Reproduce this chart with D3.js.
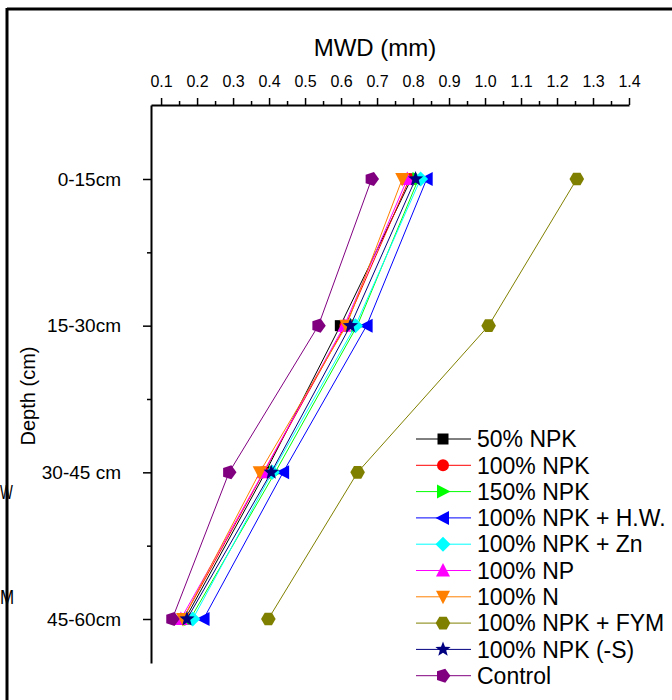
<!DOCTYPE html>
<html>
<head>
<meta charset="utf-8">
<script src="https://cdn.jsdelivr.net/npm/d3@7"></script>
<style>
  html, body { margin: 0; padding: 0; background: #fff; }
  svg { display: block; }
  text { font-family: "Liberation Sans", Arial, sans-serif; fill: #000; }
</style>
</head>
<body>
<svg id="chart" width="672" height="700"></svg>
<script>
// Depth layers (y categories)
const depths = ["0-15cm", "15-30cm", "30-45 cm", "45-60cm"];

// Top-axis tick labels
const xTicks = [0.1, 0.2, 0.3, 0.4, 0.5, 0.6, 0.7, 0.8, 0.9, 1.0, 1.1, 1.2, 1.3, 1.4];

// Treatment names, in legend order
const treatments = ["50% NPK", "100% NPK", "150% NPK", "100% NPK + H.W.", "100% NPK + Zn",
                    "100% NP", "100% N", "100% NPK + FYM", "100% NPK (-S)", "Control"];

// Mean weight diameter (mm) for each treatment, by depth
const npk50   = [0.795, 0.598, 0.390, 0.167];
const npk100  = [0.790, 0.612, 0.385, 0.161];
const npk150  = [0.815, 0.645, 0.417, 0.181];
const npkHW   = [0.838, 0.671, 0.439, 0.218];
const npkZn   = [0.821, 0.640, 0.409, 0.188];
const np100   = [0.784, 0.609, 0.384, 0.155];
const n100    = [0.770, 0.615, 0.374, 0.161];
const npkFYM  = [1.255, 1.010, 0.646, 0.398];
const npkNoS  = [0.807, 0.626, 0.406, 0.172];
const control = [0.685, 0.537, 0.289, 0.131];

const seriesValues = [npk50, npk100, npk150, npkHW, npkZn, np100, n100, npkFYM, npkNoS, control];
const colors  = ["#000000", "#ff0000", "#00ff00", "#0000ff", "#00ffff",
                 "#ff00ff", "#ff8000", "#808000", "#000080", "#800080"];
const shapes  = ["square", "circle", "triRight", "triLeft", "diamond",
                 "triUp", "triDown", "hexagon", "star", "pentagon"];

const svg = d3.select("#chart");

// Remnant frame and letters of the neighbouring panel
svg.append("line").attr("x1", 7).attr("x2", 672).attr("y1", 9).attr("y2", 9)
  .attr("stroke", "#000").attr("stroke-width", 3);
svg.append("text").attr("transform", "translate(0,499) scale(0.68,1)")
  .style("font-size", "20px").text("W");
svg.append("text").attr("transform", "translate(0,604) scale(0.85,1)")
  .style("font-size", "20px").text("M");
svg.append("line").attr("x1", 7).attr("x2", 7).attr("y1", 8).attr("y2", 700)
  .attr("stroke", "#000").attr("stroke-width", 3);

// Scales
const x = d3.scaleLinear().domain([0.072, 1.4]).range([151, 629]);
const y = d3.scaleLinear().domain([-0.5045, 3.3]).range([105, 663]);

// Top x axis
const xAxis = svg.append("g").attr("transform", "translate(0,105)")
  .call(d3.axisTop(x).tickValues(xTicks).tickFormat(d3.format(".1f"))
        .tickSize(7).tickSizeOuter(0).tickPadding(11));
xAxis.select(".domain").attr("stroke-width", 2);
xAxis.selectAll(".tick line").attr("stroke-width", 1.5);
xAxis.selectAll(".tick text").style("font-size", "16px").style("font-family", "Liberation Sans, Arial, sans-serif");
const xMinor = d3.range(0.15, 1.4, 0.1);
svg.append("g").attr("transform", "translate(0,105)")
  .call(d3.axisTop(x).tickValues(xMinor).tickFormat("").tickSize(4).tickSizeOuter(0))
  .call(g => g.select(".domain").remove())
  .selectAll(".tick line").attr("stroke-width", 1.5);

// Left y axis
const yAxis = svg.append("g").attr("transform", "translate(151,0)")
  .call(d3.axisLeft(y).tickValues([0, 1, 2, 3]).tickFormat(i => depths[i])
        .tickSize(8).tickSizeOuter(0).tickPadding(22));
yAxis.select(".domain").attr("stroke-width", 2);
yAxis.selectAll(".tick line").attr("stroke-width", 1.5);
yAxis.selectAll(".tick text").style("font-size", "19px").style("font-family", "Liberation Sans, Arial, sans-serif");
svg.append("g").attr("transform", "translate(151,0)")
  .call(d3.axisLeft(y).tickValues([0.5, 1.5, 2.5]).tickFormat("").tickSize(4).tickSizeOuter(0))
  .call(g => g.select(".domain").remove())
  .selectAll(".tick line").attr("stroke-width", 1.5);

// Axis titles
svg.append("text").attr("x", 375).attr("y", 56).attr("text-anchor", "middle")
  .style("font-size", "24px").text("MWD (mm)");
svg.append("text").attr("transform", "translate(35,396) rotate(-90)")
  .attr("text-anchor", "middle").style("font-size", "20px").text("Depth (cm)");

// Marker shape paths centred on the origin
function shapePath(kind) {
  const poly = pts => "M" + pts.map(p => p.map(v => v.toFixed(2)).join(",")).join("L") + "Z";
  const regular = (n, r, a0) => d3.range(n).map(i => {
    const a = a0 + i * 2 * Math.PI / n;
    return [r * Math.cos(a), r * Math.sin(a)];
  });
  switch (kind) {
    case "square":   return poly([[-5.5, -5.5], [5.5, -5.5], [5.5, 5.5], [-5.5, 5.5]]);
    case "circle":   return d3.symbol(d3.symbolCircle, Math.PI * 36)();
    case "triRight": return poly([[7.5, 0], [-6, -7], [-6, 7]]);
    case "triLeft":  return poly([[-7.5, 0], [6, -7], [6, 7]]);
    case "triUp":    return poly([[0, -7.5], [7, 6], [-7, 6]]);
    case "triDown":  return poly([[0, 7.5], [7, -6], [-7, -6]]);
    case "diamond":  return poly([[0, -7.5], [7.5, 0], [0, 7.5], [-7.5, 0]]);
    case "hexagon":  return poly(regular(6, 7.3, 0));
    case "pentagon": return poly(regular(5, 7.4, 0));
    case "star": {
      const pts = d3.range(10).map(i => {
        const r = i % 2 === 0 ? 8 : 3.4;
        const a = -Math.PI / 2 + i * Math.PI / 5;
        return [r * Math.cos(a), r * Math.sin(a)];
      });
      return poly(pts);
    }
  }
}

// Series: connecting lines then markers, in legend order
const line = d3.line().x(d => x(d.v)).y(d => y(d.i));
seriesValues.forEach((vals, s) => {
  const pts = vals.map((v, i) => ({ v, i }));
  const g = svg.append("g");
  g.append("path").datum(pts).attr("d", line)
    .attr("fill", "none").attr("stroke", colors[s]).attr("stroke-width", 1);
  g.selectAll("path.mk").data(pts).enter().append("path").attr("class", "mk")
    .attr("transform", d => `translate(${x(d.v)},${y(d.i)})`)
    .attr("d", shapePath(shapes[s]))
    .attr("fill", colors[s]);
});

// Legend
const legend = svg.append("g");
treatments.forEach((name, s) => {
  const ly = 439 + s * 26.3;
  legend.append("line").attr("x1", 416).attr("x2", 471).attr("y1", ly).attr("y2", ly)
    .attr("stroke", colors[s]).attr("stroke-width", 1);
  legend.append("path").attr("transform", `translate(443,${ly})`)
    .attr("d", shapePath(shapes[s])).attr("fill", colors[s]);
  legend.append("text").attr("x", 477).attr("y", ly).attr("dy", "0.36em")
    .style("font-size", "23px").text(name);
});
</script>
</body>
</html>
